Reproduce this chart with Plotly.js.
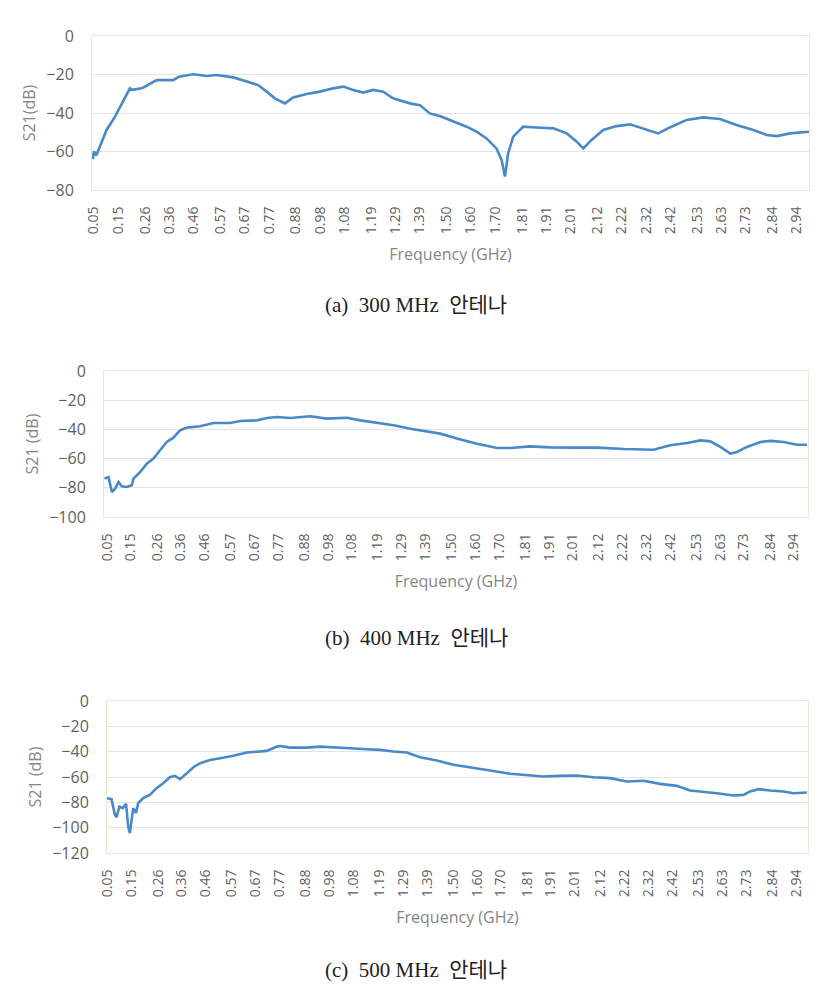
<!DOCTYPE html>
<html>
<head>
<meta charset="utf-8">
<script src="https://cdn.plot.ly/plotly-3.0.1.min.js"></script>
<style>
  html, body { margin: 0; padding: 0; background: #fff; }
  #chart { width: 838px; height: 998px; }
</style>
</head>
<body>
<div id="chart"></div>
<script>
// frequency tick labels (GHz), same on all three panels
var tickLabels = ['0.05','0.15','0.26','0.36','0.46','0.57','0.67','0.77','0.88','0.98',
  '1.08','1.19','1.29','1.39','1.50','1.60','1.70','1.81','1.91','2.01','2.12','2.22',
  '2.32','2.42','2.53','2.63','2.73','2.84','2.94'];

// (a) 300 MHz antenna
var freqA = [0.045,0.05,0.06,0.07,0.08,0.102,0.136,0.164,0.198,0.21,0.25,0.308,0.376,0.40,
  0.458,0.513,0.554,0.623,0.677,0.725,0.76,0.794,0.835,0.869,0.924,0.979,1.034,1.075,1.116,
  1.157,1.198,1.239,1.28,1.321,1.349,1.39,1.431,1.472,1.527,1.582,1.623,1.664,1.705,1.726,
  1.74,1.753,1.774,1.815,1.87,1.939,1.994,2.035,2.062,2.096,2.144,2.199,2.254,2.309,2.37,
  2.418,2.487,2.555,2.624,2.692,2.761,2.816,2.857,2.912,2.99];
var s21A = [-64,-60,-62,-59,-56,-48.8,-42,-35,-27.2,-28,-27,-22.9,-22.9,-21.1,
  -19.9,-20.8,-20.3,-21.5,-23.7,-25.5,-28.9,-32.4,-35,-31.9,-30.1,-28.9,-27.2,-26.3,-28,
  -29.4,-28,-28.9,-32.4,-34.1,-35,-35.9,-40.2,-41.6,-44.5,-47.1,-49.7,-53.2,-58.4,-64.4,
  -73,-61,-52.3,-47.1,-47.5,-48,-50.6,-54.9,-58.4,-54,-48.8,-46.8,-45.9,-48,-50.6,
  -47.5,-43.6,-42.3,-43.1,-46.2,-48.8,-51.4,-52,-50.6,-49.7];

// (b) 400 MHz antenna
var freqB = [0.039,0.056,0.07,0.084,0.098,0.112,0.133,0.154,0.161,0.189,0.217,0.245,0.273,
  0.301,0.329,0.357,0.386,0.442,0.498,0.568,0.61,0.68,0.723,0.765,0.821,0.905,0.975,1.06,
  1.116,1.186,1.256,1.326,1.41,1.452,1.522,1.607,1.691,1.747,1.831,1.915,2.027,2.111,2.224,
  2.35,2.42,2.491,2.547,2.589,2.631,2.673,2.701,2.743,2.8,2.842,2.898,2.954,2.996];
var s21B = [-73.7,-72.6,-82.9,-80.6,-76,-79,-79.4,-78.3,-73.7,-69.2,-63.5,-60,-54.3,
  -48.6,-45.7,-40.6,-38.8,-37.9,-35.6,-35.6,-34.2,-33.8,-32.2,-31.5,-32.2,-31,-32.6,-32,
  -33.8,-35.4,-37.2,-39.5,-41.8,-42.9,-46.3,-49.8,-52.7,-52.7,-51.6,-52.3,-52.5,-52.5,-53.4,
  -53.9,-50.9,-49.3,-47.5,-48.2,-52,-56.6,-55.5,-52,-48.6,-47.9,-48.6,-50.5,-50.5];

// (c) 500 MHz antenna
var freqC = [0.044,0.065,0.079,0.086,0.098,0.112,0.126,0.135,0.142,0.149,0.156,0.168,0.177,
  0.198,0.226,0.254,0.282,0.31,0.331,0.353,0.381,0.409,0.437,0.479,0.521,0.577,0.633,0.689,
  0.717,0.759,0.773,0.815,0.885,0.941,0.997,1.067,1.137,1.193,1.249,1.305,1.361,1.431,1.501,
  1.571,1.655,1.739,1.809,1.879,1.949,2.019,2.089,2.159,2.229,2.299,2.369,2.439,2.495,2.537,
  2.607,2.677,2.719,2.747,2.782,2.831,2.887,2.929,2.985];
var s21C = [-76.7,-77.5,-89.8,-91.7,-83.3,-84.6,-81.2,-99,-104.3,-93.8,-84.6,-88.5,-80.6,
  -76.7,-74.1,-68.8,-64.9,-60.2,-59.1,-61.7,-57,-52.3,-49.1,-46.5,-45.2,-43.3,-40.7,-39.9,
  -39.4,-36,-35.5,-36.8,-36.8,-36,-36.8,-37.3,-38.1,-38.6,-39.9,-40.7,-44.4,-47,-50.4,
  -52.3,-54.9,-57.5,-58.3,-59.6,-59.1,-58.8,-60.2,-60.9,-63.6,-63,-65.4,-67,-70.7,-71.4,
  -72.8,-74.6,-74.1,-71.4,-69.6,-70.7,-71.4,-72.8,-72.2];

var captions = ['(a)\u00a0\u00a0300\u00a0MHz\u00a0\u00a0안테나',
  '(b)\u00a0\u00a0400\u00a0MHz\u00a0\u00a0안테나',
  '(c)\u00a0\u00a0500\u00a0MHz\u00a0\u00a0안테나'];
var yTitles = ['S21(dB)', 'S21 (dB)', 'S21 (dB)'];
var yMins = [-80, -100, -120];

var W = 838, H = 998;
var lineColor = '#4a89c8';
var textFont = '"Open Sans", "Liberation Sans", sans-serif';

// plot boxes in pixels: [left, right, top, bottom]
var boxes = [[92, 809, 36, 190], [104, 808, 371, 517], [107, 808, 701, 853]];
var xRanges = [[0.042, 2.99], [0.037, 3.0], [0.046, 2.99]];
var captionY = [305, 638, 970];

var series = [[freqA, s21A], [freqB, s21B], [freqC, s21C]];
var data = [];
var layout = {
  width: W, height: H,
  margin: {l: 0, r: 0, t: 0, b: 0},
  paper_bgcolor: '#ffffff',
  plot_bgcolor: '#ffffff',
  showlegend: false,
  font: {family: textFont, color: '#595959'},
  annotations: []
};

var tickVals = tickLabels.map(parseFloat);

series.forEach(function(s, i) {
  var n = i === 0 ? '' : String(i + 1);
  data.push({
    x: s[0], y: s[1],
    xaxis: 'x' + n, yaxis: 'y' + n,
    type: 'scatter', mode: 'lines',
    line: {color: lineColor, width: 2.6},
    hoverinfo: 'skip'
  });
  var b = boxes[i];
  layout['xaxis' + n] = {
    domain: [b[0] / W, b[1] / W],
    anchor: 'y' + n,
    range: xRanges[i],
    tickvals: tickVals,
    ticktext: tickLabels,
    tickangle: -90,
    tickfont: {size: 14, color: '#5f5f5f'},
    ticklabelstandoff: 10,
    showgrid: false,
    zeroline: false,
    showline: true,
    linecolor: '#e4e9d4',
    linewidth: 1,
    mirror: true,
    ticks: '',
    title: {text: 'Frequency (GHz)', font: {size: 16, color: '#858585'}, standoff: 15}
  };
  layout['yaxis' + n] = {
    domain: [1 - b[3] / H, 1 - b[2] / H],
    anchor: 'x' + n,
    range: [yMins[i], 0],
    dtick: 20,
    tickfont: {size: 16, color: '#5f5f5f'},
    gridcolor: '#e3e3e3',
    zeroline: false,
    showline: true,
    linecolor: '#e4e9d4',
    linewidth: 1,
    mirror: true,
    ticklabelstandoff: 14,
    title: {text: yTitles[i], font: {size: 16, color: '#858585'}, standoff: 6}
  };
  layout.annotations.push({
    text: captions[i],
    xref: 'paper', yref: 'paper',
    x: 416 / W, y: 1 - captionY[i] / H,
    xanchor: 'center', yanchor: 'middle',
    showarrow: false,
    font: {family: '"Liberation Serif", "Noto Sans CJK KR", serif', size: 21, color: '#222222'}
  });
});

Plotly.newPlot('chart', data, layout, {displayModeBar: false, staticPlot: true});
</script>
</body>
</html>
